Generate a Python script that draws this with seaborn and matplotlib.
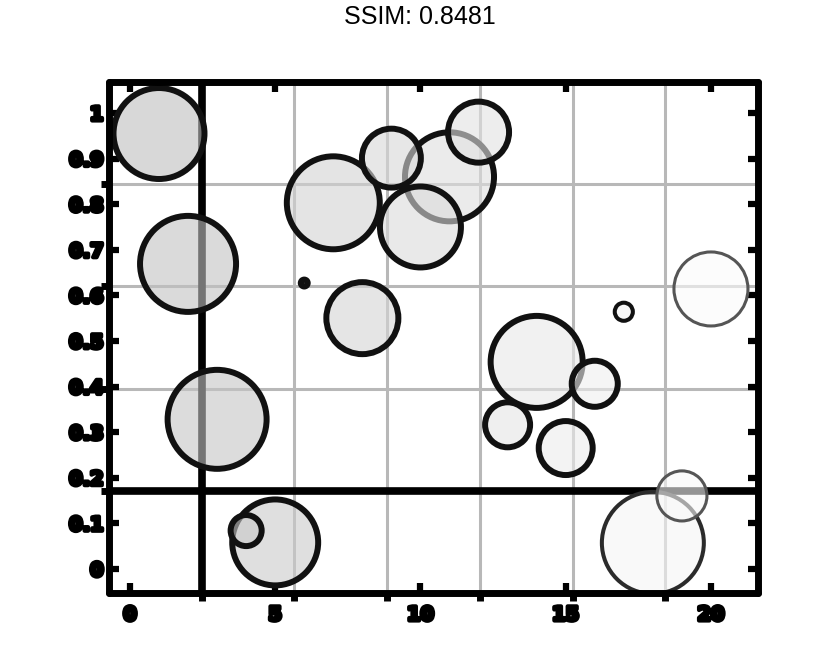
import numpy as np
import pandas as pd
import matplotlib
matplotlib.use("Agg")
import matplotlib.pyplot as plt
import matplotlib.patheffects as pe
from matplotlib.colors import LinearSegmentedColormap
import seaborn as sns

# ------------------------------------------
# data
# ------------------------------------------
x_vals = [1, 2, 3, 4, 5, 6, 7, 8, 9, 10,
          11, 12, 13, 14, 15, 16, 17, 18, 19, 20]
y_vals = [0.955, 0.669, 0.328, 0.084, 0.058, 0.627, 0.803, 0.550, 0.901, 0.750,
          0.860, 0.958, 0.316, 0.454, 0.265, 0.406, 0.564, 0.057, 0.160, 0.614]
bubble_size = [4290, 4780, 5080, 500, 3830, 25, 4480, 2690, 1800, 3400,
               4110, 1930, 1050, 4390, 1510, 1100, 170, 5390, 1300, 2840]

x_ticks = [0, 5, 10, 15, 20]
y_ticks = [0, 0.1, 0.2, 0.3, 0.4, 0.5, 0.6, 0.7, 0.8, 0.9, 1.0]
y_tick_labels = ["0", "0.1", "0.2", "0.3", "0.4", "0.5", "0.6", "0.7", "0.8", "0.9", "1"]
title_text = "SSIM: 0.8481"

df = pd.DataFrame({"x": x_vals, "y": y_vals, "s": bubble_size})
# big bubbles first so the small ones sit on top
df = df.sort_values("s", ascending=False).reset_index(drop=True)

sns.set_style("white")
fig = plt.figure(figsize=(8.4, 6.64), dpi=100)
rect = [0.1298, 0.1069, 0.7726, 0.7696]

# ------------------------------------------
# back layer: gray grid + two heavy lines
# ------------------------------------------
ax_bg = fig.add_axes(rect)
ax_bg.set_xlim(0, 7)
ax_bg.set_ylim(0, 5)
ax_bg.set_xticks(range(1, 7))
ax_bg.set_yticks(range(1, 5))
ax_bg.grid(True, color="#b8b8b8", linewidth=2.2)
ax_bg.tick_params(bottom=True, left=True, labelbottom=False, labelleft=False,
                  direction="out", length=6, width=5, color="black")
for sp in ax_bg.spines.values():
    sp.set_visible(False)
ax_bg.axvline(1, color="black", linewidth=5.5)
ax_bg.axhline(1, color="black", linewidth=5.5)

# ------------------------------------------
# front layer: bubbles
# ------------------------------------------
ax = fig.add_axes(rect)
ax.patch.set_alpha(0)
grays = LinearSegmentedColormap.from_list("grays", ["#bfbfbf", "#fbfbfb"])
s_range = (min(bubble_size), max(bubble_size))
sns.scatterplot(data=df, x="x", y="y", size="s", sizes=s_range, size_norm=s_range,
                hue="x", palette=grays, legend=False, ax=ax)

pts = ax.collections[0]
fc = pts.get_facecolors()
fc[:, 3] = 0.6
pts.set_facecolors(fc)
xs = df["x"].to_numpy()
# outline gets lighter/thinner on the last bubbles
edge = np.where(xs >= 19, "#555555", np.where(xs == 18, "#2b2b2b", "#111111"))
lw = np.where(xs >= 19, 2.2, np.where(xs >= 17, 2.9, 4.3))
pts.set_edgecolors(edge)
pts.set_linewidths(lw)

ax.set_xlim(-0.72, 21.62)
ax.set_ylim(-0.053, 1.068)
ax.set_xticks(x_ticks)
ax.set_yticks(y_ticks, labels=y_tick_labels)
ax.set_xlabel("")
ax.set_ylabel("")
ax.tick_params(direction="in", length=7, width=4.5, color="black",
               bottom=True, left=True, top=True, right=True, labelsize=14)
ax.tick_params(axis="x", pad=9)
ax.tick_params(axis="y", pad=4)
for lab in ax.get_xticklabels() + ax.get_yticklabels():
    lab.set_fontweight("bold")
    lab.set_color("black")
    lab.set_path_effects([pe.withStroke(linewidth=3, foreground="black")])
for sp in ax.spines.values():
    sp.set_visible(True)
    sp.set_color("black")
    sp.set_linewidth(5)
    sp.set_capstyle("round")

fig.text(0.5, 1 - 17 / 664, title_text, ha="center", va="center",
         fontsize=18, family="Liberation Sans", color="black")

fig.savefig("out.png", dpi=100)
